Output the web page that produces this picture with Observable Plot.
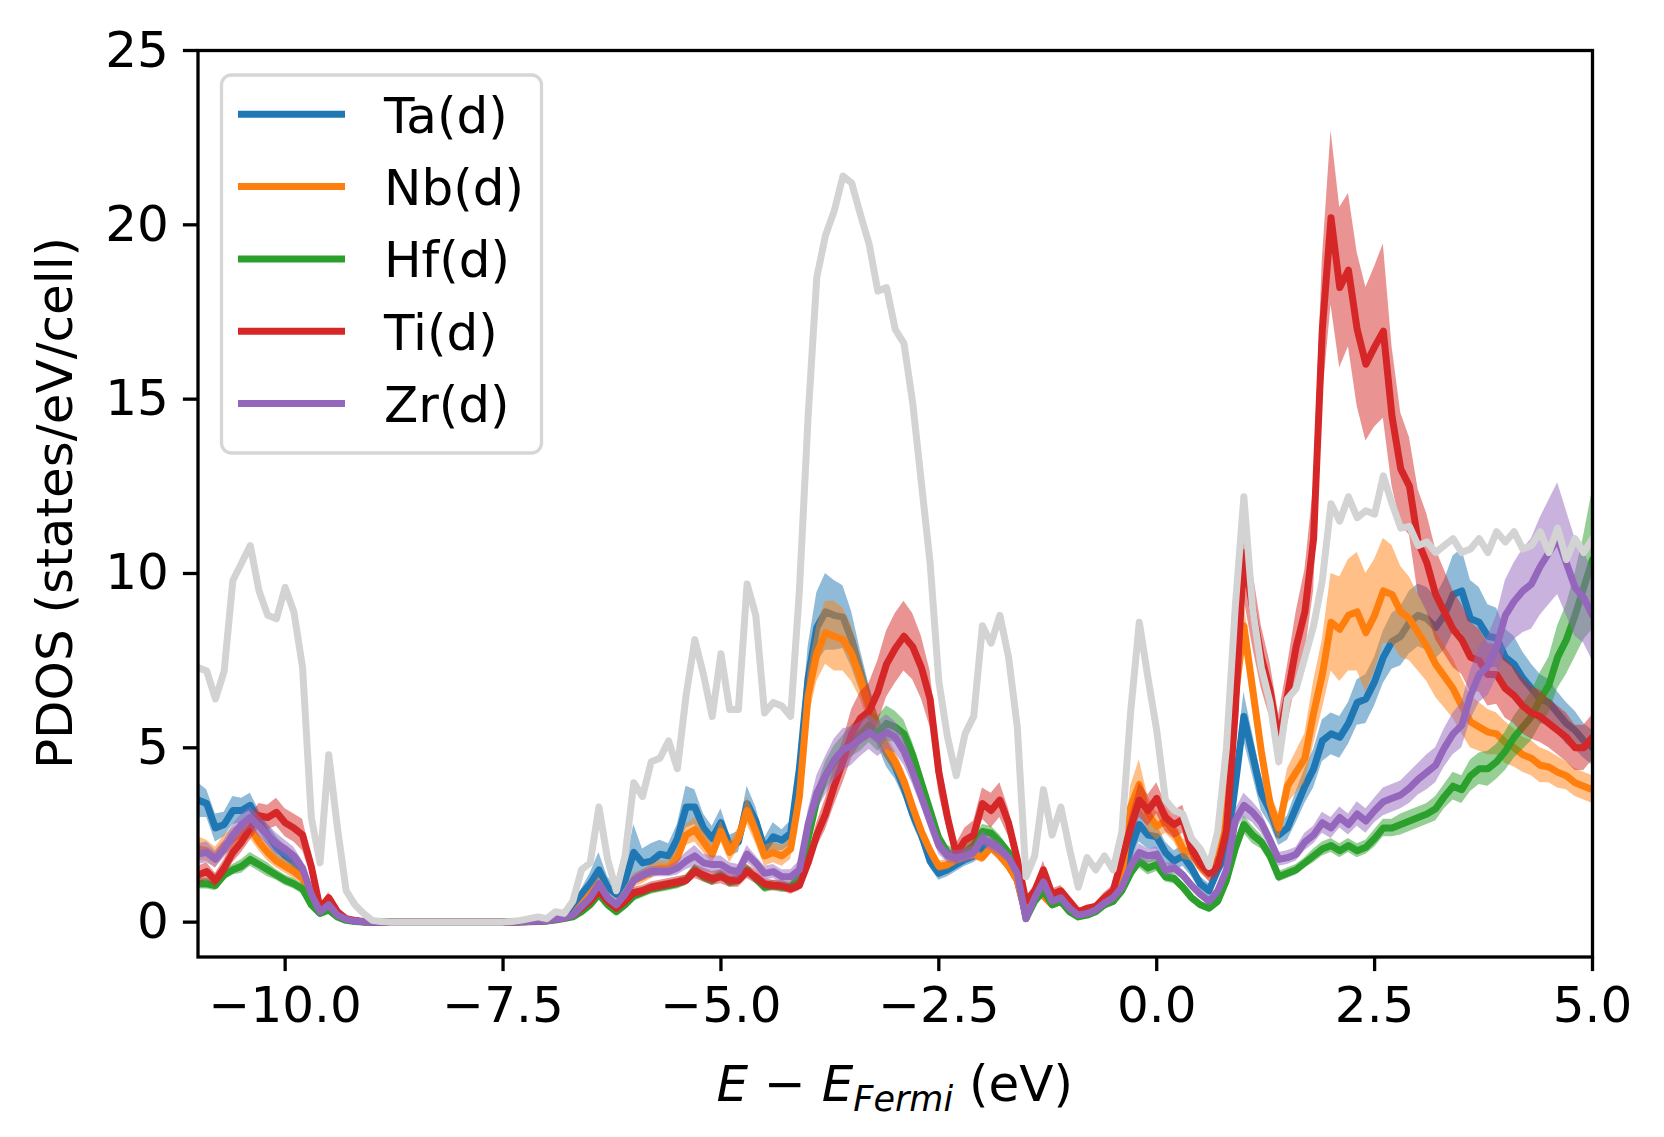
<!DOCTYPE html>
<html><head><meta charset="utf-8">
<script src="https://cdn.jsdelivr.net/npm/d3@7"></script>
<script src="https://cdn.jsdelivr.net/npm/@observablehq/plot@0.6"></script>
<style>html,body{margin:0;padding:0;background:#fff;overflow:hidden;color:#000} #chart{width:1664px;height:1137px}</style>
</head><body><div id="chart"></div>
<script>
const energy = [
-11,-10.9,-10.8,-10.7,-10.6,-10.5,-10.4,-10.3,-10.2,-10.1,
-10,-9.9,-9.8,-9.7,-9.6,-9.5,-9.4,-9.3,-9.2,-9.1,
-9,-8.9,-8.8,-8.7,-8.6,-8.5,-8.4,-8.3,-8.2,-8.1,
-8,-7.9,-7.8,-7.7,-7.6,-7.5,-7.4,-7.3,-7.2,-7.1,
-7,-6.9,-6.8,-6.7,-6.6,-6.5,-6.4,-6.3,-6.2,-6.1,
-6,-5.9,-5.8,-5.7,-5.6,-5.5,-5.4,-5.3,-5.2,-5.1,
-5,-4.9,-4.8,-4.7,-4.6,-4.5,-4.4,-4.3,-4.2,-4.1,
-4,-3.9,-3.8,-3.7,-3.6,-3.5,-3.4,-3.3,-3.2,-3.1,
-3,-2.9,-2.8,-2.7,-2.6,-2.5,-2.4,-2.3,-2.2,-2.1,
-2,-1.9,-1.8,-1.7,-1.6,-1.5,-1.4,-1.3,-1.2,-1.1,
-1,-0.9,-0.8,-0.7,-0.6,-0.5,-0.4,-0.3,-0.2,-0.1,
0,0.1,0.2,0.3,0.4,0.5,0.6,0.7,0.8,0.9,
1,1.1,1.2,1.3,1.4,1.5,1.6,1.7,1.8,1.9,
2,2.1,2.2,2.3,2.4,2.5,2.6,2.7,2.8,2.9,
3,3.1,3.2,3.3,3.4,3.5,3.6,3.7,3.8,3.9,
4,4.1,4.2,4.3,4.4,4.5,4.6,4.7,4.8,4.9,5];

const totalDOS = [
7.3,7.2,6.4,7.2,9.8,10.3,10.8,9.5,8.8,8.7,
9.6,8.9,7.3,3.0,1.7,4.8,2.7,0.9,0.5,0.25,
0.05,0.02,0,0,0,0,0,0,0,0,
0,0,0,0,0,0,0.02,0.05,0.1,0.15,
0.1,0.3,0.25,0.6,1.5,1.7,3.3,1.8,0.9,1.9,
4.0,3.6,4.6,4.7,5.2,4.4,6.5,8.1,7.1,5.9,
7.7,6.1,6.1,9.7,8.8,6.0,6.3,6.2,5.9,9.5,
14.5,18.5,19.7,20.4,21.4,21.2,20.3,19.45,18.1,18.2,
17.0,16.6,14.9,12.6,10.3,6.9,5.3,4.2,5.4,5.9,
8.5,8.0,8.8,7.6,5.6,1.3,1.9,3.8,2.5,3.3,
2.1,1.0,1.85,1.5,1.9,1.5,2.6,6.0,8.6,7.0,
5.5,3.5,3.2,3.1,2.4,2.1,1.6,2.6,5.0,9.0,
12.2,9.0,7.3,6.3,4.6,6.4,6.7,7.6,8.5,9.8,
12.0,11.5,12.2,11.6,11.8,11.7,12.8,12.0,11.3,11.35,
10.8,10.9,10.6,10.8,11.0,10.6,10.7,11.0,10.6,11.2,
10.9,11.2,10.7,10.8,11.2,10.6,11.3,10.4,11.0,10.6,11.0];

const taD = [
3.5,3.4,2.7,2.8,3.2,3.2,3.35,2.9,2.5,2.15,
1.9,1.7,1.3,0.7,0.3,0.5,0.2,0.08,0.03,0.01,
0,0,0,0,0,0,0,0,0,0,
0,0,0,0,0,0,0,0.01,0.02,0.03,
0.04,0.08,0.15,0.3,0.8,1.1,1.5,1.0,0.8,1.2,
2.0,1.7,1.75,1.95,1.9,2.4,3.3,3.3,2.7,2.4,
2.85,2.2,2.3,3.4,2.9,2.1,2.45,2.35,2.55,4.4,
7.0,8.45,8.9,8.8,8.75,8.1,7.2,6.3,5.5,4.85,
4.45,3.85,3.1,2.5,1.75,1.4,1.5,1.65,1.8,1.9,
2.15,2.2,2.0,1.65,1.2,0.2,0.7,0.9,0.5,0.6,
0.35,0.2,0.25,0.35,0.5,0.6,1.2,2.1,2.8,2.5,
2.45,2.0,1.75,1.9,1.55,1.1,0.9,1.5,2.0,3.9,
5.9,4.8,3.7,3.2,2.5,2.7,3.3,3.9,4.4,5.2,
5.4,5.3,5.7,6.3,6.4,6.9,7.6,8.05,8.2,8.6,
8.8,8.7,8.45,8.8,9.4,9.5,8.7,8.6,8.2,8.15,
7.6,7.4,7.0,6.7,6.4,6.3,6.0,5.7,5.5,5.2,5.0];
const taSpread = [
0.5,0.4,0.4,0.35,0.4,0.35,0.35,0.3,0.3,0.3,
0.3,0.25,0.2,0.15,0.1,0.1,0.05,0.03,0.02,0.01,
0,0,0,0,0,0,0,0,0,0,
0,0,0,0,0,0,0,0,0.01,0.01,
0.02,0.03,0.05,0.08,0.15,0.3,0.5,0.3,0.2,0.3,
0.8,0.4,0.5,0.4,0.35,0.4,0.6,0.5,0.4,0.35,
0.4,0.3,0.3,0.5,0.4,0.3,0.4,0.3,0.35,0.6,
0.9,1.0,1.1,1.0,0.9,0.8,0.6,0.5,0.45,0.4,
0.35,0.3,0.3,0.25,0.2,0.2,0.2,0.2,0.2,0.2,
0.25,0.2,0.2,0.2,0.15,0.05,0.1,0.1,0.1,0.1,
0.05,0.05,0.05,0.05,0.1,0.1,0.2,0.4,0.5,0.4,
0.35,0.3,0.3,0.3,0.25,0.2,0.2,0.25,0.3,0.5,
0.7,0.6,0.5,0.4,0.3,0.35,0.45,0.5,0.55,0.6,
0.6,0.6,0.6,0.65,0.7,0.7,0.75,0.8,0.85,0.9,
0.9,0.9,0.9,1.0,1.1,1.2,1.1,1.0,0.9,0.85,
0.8,0.8,0.75,0.7,0.7,0.65,0.6,0.6,0.55,0.5,0.5];

const nbD = [
2.1,2.05,1.85,2.2,2.4,2.55,2.7,2.3,2.0,1.75,
1.6,1.45,1.25,0.7,0.3,0.45,0.2,0.08,0.03,0.01,
0,0,0,0,0,0,0,0,0,0,
0,0,0,0,0,0,0,0.01,0.02,0.03,
0.05,0.08,0.12,0.2,0.5,0.8,1.1,0.7,0.5,0.8,
1.2,1.3,1.45,1.55,1.55,1.85,2.5,2.65,2.3,1.95,
2.6,2.0,2.4,3.2,2.6,1.9,2.0,1.9,2.1,3.6,
6.5,7.7,8.3,8.2,8.1,7.7,7.0,6.2,5.5,5.0,
4.6,4.05,3.3,2.6,2.05,1.6,1.65,1.8,1.9,1.95,
1.85,2.15,1.9,1.6,1.2,0.2,0.8,0.75,0.5,0.6,
0.35,0.2,0.25,0.4,0.6,0.8,1.3,3.3,3.95,3.1,
2.75,2.9,2.6,2.1,2.0,1.6,1.4,2.0,3.5,6.4,
8.5,6.7,4.9,3.4,2.7,3.9,4.3,4.7,6.0,7.1,
8.6,8.4,8.8,8.9,8.3,8.8,9.5,9.4,8.9,8.7,
8.3,7.9,7.4,7.05,6.7,6.2,5.75,5.6,5.45,5.4,
5.15,5.0,4.8,4.7,4.5,4.45,4.3,4.2,4.0,3.9,3.8];
const nbSpread = [
0.35,0.3,0.3,0.3,0.3,0.3,0.3,0.25,0.25,0.2,
0.2,0.2,0.15,0.1,0.05,0.05,0.03,0.02,0.01,0,
0,0,0,0,0,0,0,0,0,0,
0,0,0,0,0,0,0,0,0.01,0.01,
0.01,0.02,0.03,0.05,0.1,0.15,0.2,0.15,0.1,0.15,
0.2,0.2,0.2,0.2,0.2,0.25,0.3,0.35,0.3,0.3,
0.3,0.3,0.3,0.4,0.35,0.3,0.3,0.3,0.3,0.5,
0.7,0.8,0.9,1.0,0.9,0.8,0.6,0.5,0.4,0.35,
0.3,0.3,0.25,0.2,0.2,0.15,0.15,0.15,0.15,0.15,
0.15,0.15,0.15,0.15,0.1,0.05,0.1,0.1,0.1,0.1,
0.05,0.05,0.05,0.05,0.1,0.15,0.3,0.6,0.7,0.5,
0.4,0.35,0.3,0.3,0.25,0.2,0.2,0.3,0.4,0.6,
0.7,0.6,0.5,0.4,0.4,0.5,0.6,0.7,0.9,1.0,
1.4,1.5,1.6,1.7,1.7,1.6,1.5,1.4,1.3,1.2,
1.1,1.0,0.95,0.9,0.85,0.8,0.75,0.7,0.65,0.6,
0.6,0.55,0.5,0.5,0.5,0.45,0.45,0.4,0.4,0.4,0.4];

const hfD = [
1.1,1.1,1.05,1.35,1.5,1.6,1.8,1.65,1.5,1.35,
1.2,1.1,0.95,0.5,0.25,0.35,0.15,0.05,0.02,0,
0,0,0,0,0,0,0,0,0,0,
0,0,0,0,0,0,0,0.01,0.01,0.02,
0.03,0.06,0.1,0.15,0.3,0.5,0.8,0.5,0.3,0.5,
0.75,0.85,0.95,1.0,1.05,1.1,1.2,1.5,1.3,1.2,
1.35,1.15,1.2,1.5,1.25,1.0,1.05,1.0,1.0,1.3,
2.4,3.5,4.2,4.6,4.9,5.2,5.4,5.65,5.4,5.7,
5.6,5.4,4.8,4.0,3.2,2.4,2.0,1.9,2.0,2.2,
2.6,2.55,2.3,2.0,1.5,0.1,0.6,0.9,0.5,0.6,
0.3,0.15,0.2,0.3,0.5,0.6,0.9,1.4,1.75,1.55,
1.65,1.3,1.25,1.0,0.7,0.5,0.4,0.6,1.2,2.1,
2.8,2.5,2.3,1.9,1.3,1.4,1.5,1.7,1.9,2.1,
2.2,2.05,2.2,2.05,2.15,2.4,2.7,2.7,2.8,2.9,
3.0,3.1,3.25,3.6,3.9,3.8,4.2,4.4,4.4,4.6,
4.9,5.3,5.6,5.9,6.4,6.8,7.6,8.1,8.8,9.6,10.4];
const hfSpread = [
0.15,0.15,0.15,0.15,0.15,0.2,0.2,0.2,0.2,0.15,
0.15,0.15,0.15,0.1,0.05,0.05,0.03,0.01,0,0,
0,0,0,0,0,0,0,0,0,0,
0,0,0,0,0,0,0,0,0,0,
0.01,0.02,0.03,0.04,0.06,0.1,0.15,0.1,0.08,0.1,
0.15,0.15,0.15,0.15,0.15,0.15,0.15,0.15,0.15,0.15,
0.15,0.15,0.15,0.15,0.15,0.15,0.15,0.15,0.15,0.15,
0.3,0.35,0.4,0.45,0.45,0.45,0.5,0.5,0.5,0.5,
0.45,0.4,0.35,0.3,0.3,0.25,0.2,0.2,0.2,0.2,
0.2,0.2,0.2,0.15,0.1,0.05,0.08,0.1,0.08,0.08,
0.05,0.03,0.03,0.05,0.08,0.1,0.12,0.15,0.2,0.2,
0.2,0.15,0.15,0.12,0.1,0.08,0.08,0.1,0.15,0.2,
0.25,0.25,0.2,0.2,0.15,0.15,0.15,0.15,0.2,0.2,
0.2,0.2,0.2,0.2,0.2,0.25,0.25,0.25,0.3,0.3,
0.3,0.3,0.35,0.35,0.4,0.4,0.45,0.45,0.5,0.5,
0.55,0.6,0.65,0.7,0.75,0.8,0.9,1.0,1.2,1.5,2.0];

const tiD = [
1.35,1.45,1.2,1.55,2.0,2.3,2.7,3.05,3.0,3.15,
2.85,2.7,2.5,1.6,0.4,0.7,0.3,0.1,0.05,0.02,
0,0,0,0,0,0,0,0,0,0,
0,0,0,0,0,0,0,0.01,0.02,0.03,
0.04,0.08,0.12,0.2,0.4,0.6,0.9,0.6,0.4,0.6,
0.85,0.9,1.0,1.05,1.1,1.15,1.2,1.45,1.35,1.25,
1.3,1.2,1.2,1.45,1.3,1.1,1.05,1.05,0.95,1.05,
1.7,2.5,3.1,3.9,4.6,5.4,5.85,6.05,6.6,7.4,
7.85,8.2,7.9,7.3,6.4,4.3,3.0,1.95,2.35,2.5,
3.4,3.2,3.5,2.85,1.8,0.6,0.9,1.5,0.8,0.9,
0.6,0.3,0.4,0.45,0.7,0.9,1.8,2.7,3.5,3.2,
3.55,3.0,2.8,2.95,2.1,1.7,1.4,1.6,2.6,6.0,
10.6,9.0,7.6,6.65,5.2,6.5,7.9,8.9,11.0,17.0,
20.2,18.2,18.7,17.0,16.0,16.5,16.95,14.5,13.0,12.5,
10.9,10.3,9.4,8.9,8.4,8.1,7.6,7.5,7.1,7.1,
6.7,6.5,6.2,6.0,5.9,5.7,5.5,5.3,5.0,5.0,5.3];
const tiSpread = [
0.25,0.25,0.2,0.25,0.3,0.3,0.35,0.35,0.35,0.4,
0.4,0.4,0.45,0.3,0.1,0.15,0.05,0.03,0.01,0,
0,0,0,0,0,0,0,0,0,0,
0,0,0,0,0,0,0,0,0.01,0.01,
0.01,0.02,0.03,0.04,0.08,0.1,0.15,0.1,0.08,0.1,
0.15,0.15,0.15,0.15,0.15,0.15,0.15,0.2,0.2,0.2,
0.2,0.2,0.2,0.2,0.2,0.15,0.15,0.15,0.15,0.15,
0.25,0.35,0.45,0.55,0.6,0.7,0.75,0.8,0.9,0.95,
1.0,1.0,0.95,0.9,0.8,0.6,0.4,0.3,0.35,0.4,
0.45,0.5,0.5,0.4,0.35,0.1,0.15,0.25,0.15,0.15,
0.1,0.05,0.05,0.1,0.15,0.15,0.25,0.4,0.5,0.45,
0.45,0.4,0.4,0.4,0.3,0.25,0.25,0.3,0.45,0.9,
1.3,1.1,0.9,0.8,0.75,0.85,1.0,1.2,1.5,2.0,
2.5,2.3,2.2,2.2,2.2,2.3,2.5,2.0,1.6,1.4,
1.5,1.4,1.3,1.2,1.1,1.0,1.0,0.9,0.9,0.85,
0.85,0.8,0.8,0.75,0.75,0.7,0.7,0.7,0.65,0.65,0.65];

const zrD = [
1.95,2.0,1.8,2.1,2.5,2.8,3.0,2.75,2.5,2.25,
2.1,1.9,1.55,0.8,0.3,0.5,0.2,0.08,0.03,0.01,
0,0,0,0,0,0,0,0,0,0,
0,0,0,0,0,0,0,0.01,0.02,0.03,
0.04,0.08,0.12,0.2,0.45,0.7,1.1,0.7,0.5,0.8,
1.2,1.35,1.45,1.45,1.45,1.55,1.75,1.9,1.7,1.65,
1.65,1.5,1.45,1.95,1.7,1.4,1.45,1.3,1.3,1.5,
2.8,3.7,4.2,4.65,4.95,5.05,5.25,5.45,5.25,5.45,
5.3,4.9,4.3,3.6,2.9,2.2,1.9,1.85,1.9,2.0,
2.4,2.25,2.1,1.85,1.4,0.1,0.7,1.15,0.6,0.7,
0.4,0.2,0.25,0.35,0.55,0.7,1.0,1.6,2.0,1.9,
1.95,1.5,1.55,1.35,1.05,0.8,0.6,0.9,1.5,2.9,
3.35,3.15,2.85,2.35,1.8,1.85,1.95,2.3,2.5,2.85,
2.7,3.0,2.8,3.1,2.9,3.2,3.45,3.55,3.65,3.85,
4.1,4.3,4.5,5.0,5.4,5.65,6.5,7.1,7.35,7.9,
8.8,9.2,9.5,9.7,10.2,10.6,11.0,10.3,9.6,9.3,8.8];
const zrSpread = [
0.3,0.3,0.25,0.25,0.3,0.3,0.3,0.3,0.3,0.3,
0.25,0.25,0.2,0.1,0.05,0.05,0.03,0.01,0,0,
0,0,0,0,0,0,0,0,0,0,
0,0,0,0,0,0,0,0,0.01,0.01,
0.01,0.02,0.03,0.04,0.08,0.1,0.15,0.1,0.08,0.1,
0.15,0.15,0.15,0.15,0.15,0.2,0.25,0.3,0.25,0.25,
0.25,0.2,0.2,0.25,0.2,0.2,0.2,0.2,0.2,0.25,
0.4,0.5,0.55,0.6,0.6,0.55,0.5,0.5,0.5,0.5,
0.45,0.4,0.35,0.3,0.3,0.25,0.2,0.2,0.2,0.2,
0.2,0.2,0.2,0.15,0.1,0.05,0.08,0.1,0.08,0.08,
0.05,0.03,0.03,0.05,0.08,0.1,0.12,0.2,0.25,0.2,
0.2,0.2,0.15,0.15,0.12,0.1,0.08,0.1,0.2,0.3,
0.35,0.3,0.3,0.25,0.2,0.2,0.2,0.25,0.25,0.3,
0.3,0.3,0.3,0.35,0.35,0.35,0.4,0.4,0.4,0.45,
0.45,0.5,0.5,0.55,0.6,0.65,0.7,0.8,0.85,0.9,
1.0,1.1,1.2,1.3,1.4,1.5,1.6,1.5,1.4,1.3,1.3];

const seriesNames = ["Ta(d)", "Nb(d)", "Hf(d)", "Ti(d)", "Zr(d)"];
const seriesColors = ["#1f77b4", "#ff7f0e", "#2ca02c", "#d62728", "#9467bd"];
const totalColor = "#d3d3d3";
const xTicks = [-10, -7.5, -5, -2.5, 0, 2.5, 5];
const yTicks = [0, 5, 10, 15, 20, 25];

const seriesValues = [taD, nbD, hfD, tiD, zrD];
const seriesSpreads = [taSpread, nbSpread, hfSpread, tiSpread, zrSpread];
const LW = 7;

const marks = [];
seriesValues.forEach((vals, k) => {
  const rows = energy.map((e, i) => ({e, v: vals[i], lo: vals[i] - seriesSpreads[k][i], hi: vals[i] + seriesSpreads[k][i]}));
  marks.push(Plot.areaY(rows, {x: "e", y1: "lo", y2: "hi", fill: seriesColors[k], fillOpacity: 0.5, clip: true}));
  marks.push(Plot.line(rows, {x: "e", y: "v", stroke: seriesColors[k], strokeWidth: LW, clip: true}));
});
const totalRows = energy.map((e, i) => ({e, v: totalDOS[i]}));
marks.push(Plot.line(totalRows, {x: "e", y: "v", stroke: totalColor, strokeWidth: LW, clip: true}));
marks.push(Plot.frame({stroke: "black", strokeWidth: 3.3}));
const fmtX = d => d.toFixed(1).replace("-", "\u2212");
marks.push(Plot.axisX({ticks: xTicks, tickFormat: fmtX, tickSize: 14.6, tickPadding: 14.6, strokeWidth: 3.3, label: null, fontSize: 50}));
marks.push(Plot.axisY({ticks: yTicks, tickFormat: d => String(d), tickSize: 14.6, tickPadding: 14.6, strokeWidth: 3.3, label: null, fontSize: 50}));

const chart = Plot.plot({
  width: 1664, height: 1137,
  marginLeft: 197.5, marginRight: 72, marginTop: 50, marginBottom: 180.5,
  style: {fontFamily: "DejaVu Sans", fontSize: "50px", color: "black", background: "white"},
  x: {domain: [-11, 5]},
  y: {domain: [-1, 25]},
  marks
});
document.getElementById("chart").appendChild(chart);

const svg = d3.select(chart);
// legend
const lg = svg.append("g").attr("font-family", "DejaVu Sans").attr("font-size", 50).attr("text-anchor", "start");
lg.append("rect").attr("x", 221.5).attr("y", 75).attr("width", 320).attr("height", 378)
  .attr("rx", 10).attr("fill", "white").attr("fill-opacity", 0.8)
  .attr("stroke", "#d6d6d6").attr("stroke-width", 3.3);
seriesNames.forEach((name, i) => {
  const cy = 114.3 + i * 72.3;
  lg.append("line").attr("x1", 238).attr("x2", 345).attr("y1", cy).attr("y2", cy)
    .attr("stroke", seriesColors[i]).attr("stroke-width", LW);
  lg.append("text").attr("x", 384).attr("y", cy + 18.5).attr("text-anchor", "start").attr("fill", "black").text(name);
});
// x label
const xl = svg.append("text").attr("x", 894.75).attr("y", 1101).attr("text-anchor", "middle")
  .attr("font-family", "DejaVu Sans").attr("font-size", 50).attr("fill", "black");
xl.append("tspan").attr("font-style", "italic").text("E");
xl.append("tspan").text(" \u2212 ");
xl.append("tspan").attr("font-style", "italic").text("E");
xl.append("tspan").attr("font-style", "italic").attr("font-size", 35).attr("dy", 10).text("Fermi");
xl.append("tspan").attr("dy", -10).text(" (eV)");
// y label
svg.append("text").attr("transform", "translate(72,503) rotate(-90)").attr("text-anchor", "middle")
  .attr("font-family", "DejaVu Sans").attr("font-size", 50).attr("fill", "black")
  .text("PDOS (states/eV/cell)");
</script>
</body></html>
